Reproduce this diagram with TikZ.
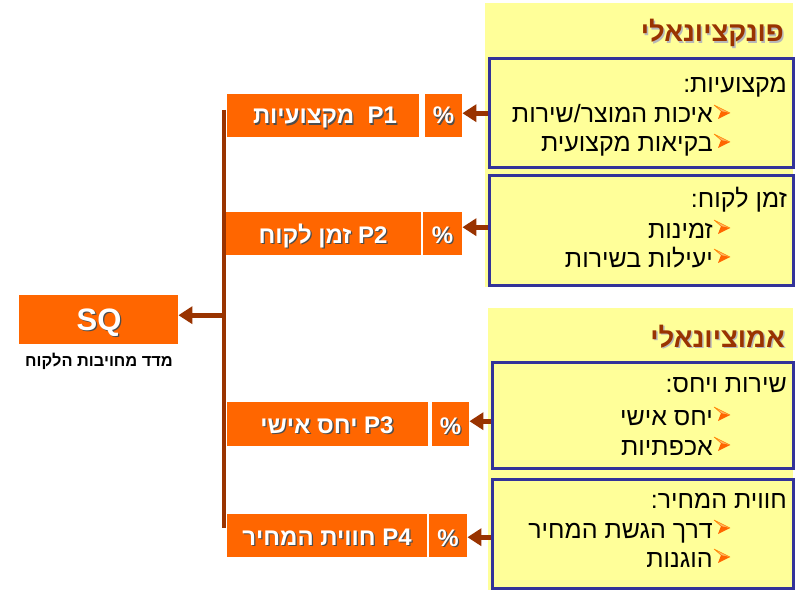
\documentclass[tikz,border=0pt]{standalone}
\usepackage{fontspec}
\setmainfont{Liberation Sans}
\newfontfamily\heb[Script=Hebrew]{Liberation Sans}
\TeXXeTstate=1
\usetikzlibrary{arrows.meta}
\definecolor{orng}{HTML}{FF6600}
\definecolor{ylw}{HTML}{FFFF99}
\definecolor{navy}{HTML}{333399}
\definecolor{brn}{HTML}{993300}
\definecolor{bulllight}{HTML}{FFB366}
\definecolor{shadowc}{HTML}{4D4D4D}
\tikzset{
  x=1pt, y=-1pt,
  panel/.style={fill=ylw, draw=none, inner sep=0pt, anchor=north west},
  infobox/.style={fill=ylw, draw=navy, line width=2.6pt, inner sep=0pt, anchor=north west},
  obox/.style={fill=orng, draw=none, inner sep=0pt, anchor=north west},
  ptxt/.style={text=white, inner sep=0pt, anchor=base, font=\heb\bfseries\fontsize{24}{26}\selectfont},
  pctxt/.style={text=white, inner sep=0pt, anchor=base, font=\heb\bfseries\fontsize{24}{26}\selectfont},
  sqtxt/.style={text=white, inner sep=0pt, anchor=base, font=\heb\bfseries\fontsize{31}{33}\selectfont},
  hdr/.style={text=brn, inner sep=0pt, anchor=base east, font=\heb\bfseries\fontsize{27.5}{30}\selectfont},
  itm/.style={text=black, inner sep=0pt, anchor=base east, font=\heb\fontsize{25}{28}\selectfont},
  lbl/.style={text=black, inner sep=0pt, anchor=base, font=\heb\bfseries\fontsize{16.4}{19}\selectfont},
  conn/.style={draw=brn, line width=5pt, -{Triangle[length=14pt,width=17pt]}},
  trunk/.style={draw=brn, line width=3.5pt},
  bul/.pic={
    \fill[bulllight] (0,0) -- (-16,-8) -- (-9,-2) -- cycle;
    \draw[orng!80!yellow, line width=0.6pt, line join=round] (0,0) -- (-16,-8) -- (-9,-2);
    \fill[orng] (0,0) -- (-9,-2) -- (-12,6) -- cycle;
  }
}
\newcommand\mysht[4]{%
  \node[#1, text=shadowc] (#2s) at ([shift={(1.3pt,-1.3pt)}]#3) {#4};%
  \node[#1] (#2) at (#3) {#4};}
\begin{document}
\begin{tikzpicture}
\useasboundingbox (0,0) rectangle (798,591);
\fill[white] (0,0) rectangle (798,591);

% panels
\node[panel, minimum width=308pt, minimum height=284pt] (pan1) at (485,3) {};
\node[panel, minimum width=305pt, minimum height=282pt] (pan2) at (488,308) {};

% headers
\node[hdr, text=shadowc!40] (h1s) at (785.5,43.5) {\beginR פונקציונאלי\endR};
\node[hdr] (h1) at (784,42) {\beginR פונקציונאלי\endR};
\node[hdr, text=shadowc!40] (h2s) at (786.5,348.5) {\beginR אמוציונאלי\endR};
\node[hdr] (h2) at (785,347) {\beginR אמוציונאלי\endR};

% info boxes
\node[infobox, minimum width=304pt, minimum height=109pt] (b1) at (488,57) {};
\node[infobox, minimum width=304pt, minimum height=110pt] (b2) at (488,174) {};
\node[infobox, minimum width=301pt, minimum height=106pt] (b3) at (491,361) {};
\node[infobox, minimum width=301pt, minimum height=109pt] (b4) at (491,478) {};

% box texts
\node[itm] (t1) at (787,93) {\beginR מקצועיות:\endR};
\node[itm] (t1a) at (713,123) {\beginR איכות המוצר/שירות\endR};
\node[itm] (t1b) at (713,152) {\beginR בקיאות מקצועית\endR};
\pic at (730,113) {bul};
\pic at (730,142) {bul};

\node[itm] (t2) at (787,207) {\beginR זמן לקוח:\endR};
\node[itm] (t2a) at (713,238) {\beginR זמינות\endR};
\node[itm] (t2b) at (713,267) {\beginR יעילות בשירות\endR};
\pic at (730,228) {bul};
\pic at (730,257) {bul};

\node[itm] (t3) at (787,392) {\beginR שירות ויחס:\endR};
\node[itm] (t3a) at (713,425) {\beginR יחס אישי\endR};
\node[itm] (t3b) at (713,455) {\beginR אכפתיות\endR};
\pic at (730,415) {bul};
\pic at (730,445) {bul};

\node[itm] (t4) at (787,508) {\beginR חווית המחיר:\endR};
\node[itm] (t4a) at (713,538) {\beginR דרך הגשת המחיר\endR};
\node[itm] (t4b) at (713,567) {\beginR הוגנות\endR};
\pic at (730,528) {bul};
\pic at (730,557) {bul};

% P boxes
\node[obox, minimum width=192pt, minimum height=43pt] (p1) at (227,94) {};
\node[obox, minimum width=37pt, minimum height=43pt] (pc1) at (425,94) {};
\node[obox, minimum width=195pt, minimum height=43pt] (p2) at (226,212) {};
\node[obox, minimum width=39pt, minimum height=43pt] (pc2) at (423,212) {};
\node[obox, minimum width=201pt, minimum height=44pt] (p3) at (227,402) {};
\node[obox, minimum width=37pt, minimum height=44pt] (pc3) at (432,402) {};
\node[obox, minimum width=200pt, minimum height=43pt] (p4) at (227,514) {};
\node[obox, minimum width=38pt, minimum height=43pt] (pc4) at (429,514) {};
\node[obox, minimum width=159pt, minimum height=49pt] (sq) at (19,295) {};

\mysht{ptxt}{p1t}{325,124}{\beginR\beginL P1\endL\ \ מקצועיות\endR}
\mysht{ptxt}{p2t}{323,243}{\beginR\beginL P2\endL\ זמן לקוח\endR}
\mysht{ptxt}{p3t}{327,433}{\beginR\beginL P3\endL\ יחס אישי\endR}
\mysht{ptxt}{p4t}{327,545}{\beginR\beginL P4\endL\ חווית המחיר\endR}
\mysht{pctxt}{pc1t}{443.5,124}{\%}
\mysht{pctxt}{pc2t}{442.5,243}{\%}
\mysht{pctxt}{pc3t}{450.5,434}{\%}
\mysht{pctxt}{pc4t}{448,546}{\%}
\mysht{sqtxt}{sqt}{99,330}{SQ}

\node[lbl] (sql) at (99,366) {\beginR מדד מחויבות הלקוח\endR};

% trunk
\coordinate (vt) at (224,110);
\coordinate (vb) at (224,528);
\draw[trunk] (vt) -- (vb);

% connectors
\draw[conn] ([yshift=2.5pt]b1.west |- pc1.east) -- ([yshift=2.5pt]pc1.east);
\draw[conn] ([yshift=6.5pt]b2.west |- pc2.east) -- ([yshift=6.5pt]pc2.east);
\draw[conn] ([yshift=3pt]b3.west |- pc3.east) -- ([yshift=3pt]pc3.east);
\draw[conn] ([yshift=-1.5pt]b4.west |- pc4.east) -- ([yshift=-1.5pt]pc4.east);
\draw[conn] ([yshift=4.5pt]vt |- sq.east) -- ([yshift=4.5pt]sq.east);
\end{tikzpicture}
\end{document}
